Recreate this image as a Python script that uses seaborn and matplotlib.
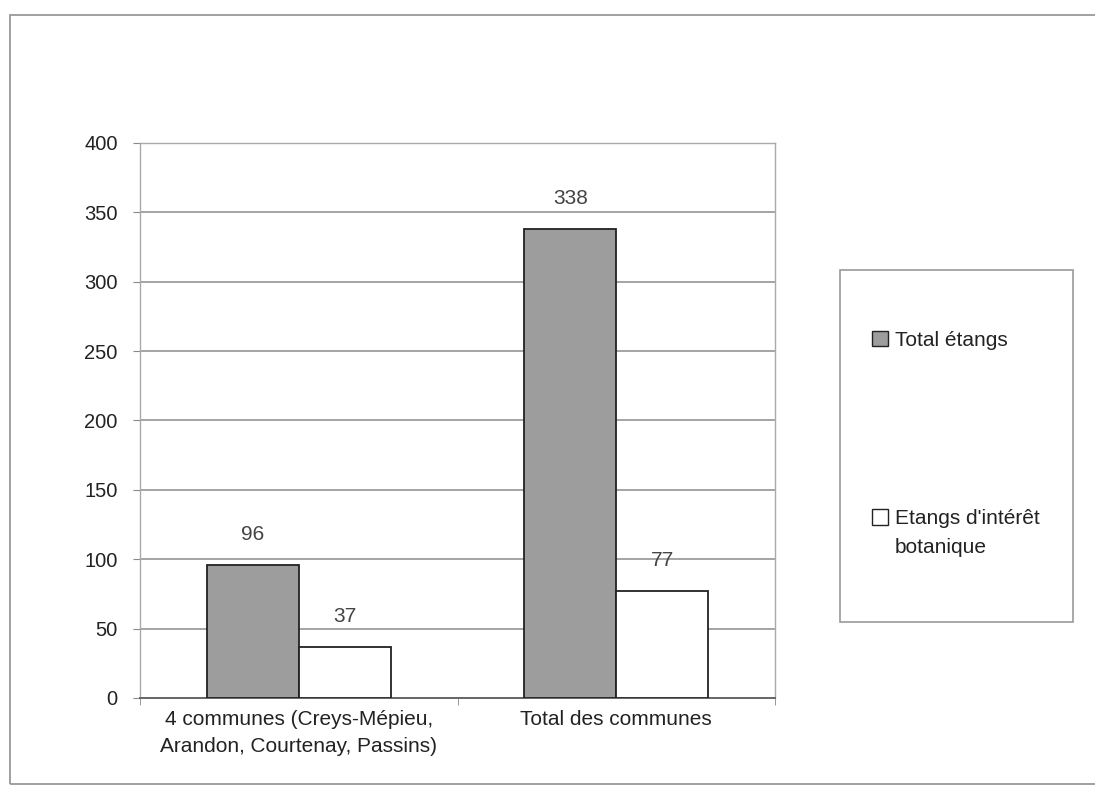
import matplotlib
matplotlib.use("Agg")
import matplotlib.pyplot as plt
import matplotlib.patches as mpatches
import seaborn as sns
import pandas as pd

# data
categories = ["4 communes (Creys-Mépieu,\nArandon, Courtenay, Passins)", "Total des communes"]
series = ["Total étangs", "Etangs d'intérêt\nbotanique"]
total_etangs = [96, 338]
etangs_botanique = [37, 77]
y_ticks = [0, 50, 100, 150, 200, 250, 300, 350, 400]

df = pd.DataFrame({
    "categorie": categories * 2,
    "serie": [series[0]] * 2 + [series[1]] * 2,
    "valeur": total_etangs + etangs_botanique,
})

sns.set_style("white")
plt.rcParams["font.family"] = ["Liberation Sans", "DejaVu Sans"]
plt.rcParams["text.color"] = "#222222"

fig = plt.figure(figsize=(10.95, 7.87), dpi=100)
ax = fig.add_axes([0.1279, 0.1131, 0.5799, 0.7052])

palette = {series[0]: "#9d9d9d", series[1]: "#ffffff"}
sns.barplot(data=df, x="categorie", y="valeur", hue="serie", palette=palette,
            width=0.58, edgecolor="#222222", linewidth=1.3, saturation=1,
            ax=ax, legend=False, zorder=3)

for cont in ax.containers:
    ax.bar_label(cont, padding=15, fontsize=15, color="#444444")

ax.set_ylim(0, 400)
ax.set_xlim(-0.5, len(categories) - 0.5)
ax.set_yticks(y_ticks)
ax.yaxis.grid(True, color="#8c8c8c", linewidth=1.1, zorder=0)
ax.set_xlabel("")
ax.set_ylabel("")
ax.tick_params(axis="y", labelsize=14.5, length=5, color="#888888", left=True, pad=11,
               labelcolor="#222222")
ax.tick_params(axis="x", labelsize=15, length=0, pad=9, labelcolor="#222222")
ax.set_xticks(range(len(categories)))
ax.set_xticklabels(categories, linespacing=1.5)
# small ticks between categories, as in the source
ax.set_xticks([i - 0.5 for i in range(len(categories) + 1)], minor=True)
ax.tick_params(axis="x", which="minor", length=5, color="#888888", bottom=True)
for s in ax.spines.values():
    s.set_color("#aaaaaa")
    s.set_linewidth(1.0)
ax.spines["bottom"].set_color("#666666")
ax.spines["bottom"].set_linewidth(1.4)

# outer chart border
fig.patches.append(mpatches.Rectangle((10 / 1095, 1 - 784 / 787), 1.2, (784 - 15) / 787,
                                      transform=fig.transFigure, fill=False,
                                      edgecolor="#999999", linewidth=1.3))

# legend box
fig.patches.append(mpatches.Rectangle((840 / 1095, 1 - 622 / 787), 233 / 1095, 352 / 787,
                                      transform=fig.transFigure, fill=False,
                                      edgecolor="#999999", linewidth=1.2))
handles = [mpatches.Patch(facecolor=palette[s], edgecolor="#222222", linewidth=1.0) for s in series]
leg_kw = dict(loc="center left", frameon=False, fontsize=15, handlelength=0.75,
              handleheight=0.75, handletextpad=0.35, borderaxespad=0, borderpad=0)
leg1 = fig.legend(handles[:1], series[:1], bbox_to_anchor=(872 / 1095, 1 - 340 / 787), **leg_kw)
# second entry: marker level with the first line of its label
first_line, second_line = series[1].split("\n")
blank = mpatches.Patch(facecolor="none", edgecolor="none")
leg2 = fig.legend([handles[1], blank], [first_line, second_line],
                  bbox_to_anchor=(872 / 1095, 1 - 533 / 787), labelspacing=0.45, **leg_kw)

fig.savefig("out.png", dpi=100)
